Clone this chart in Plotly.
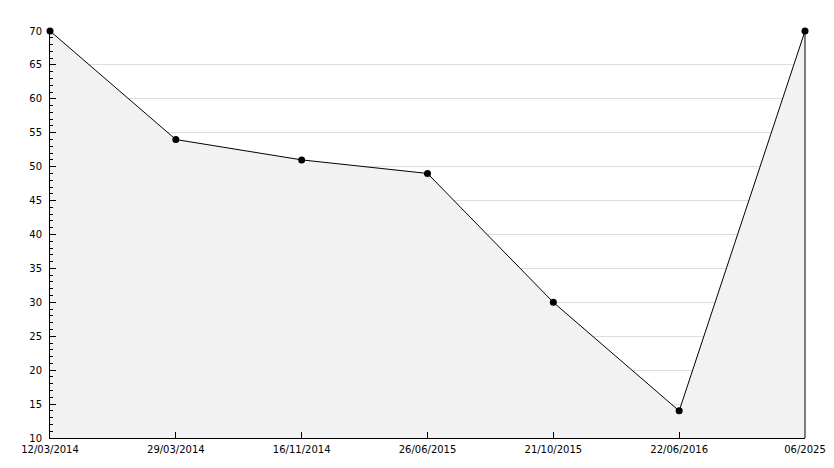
import plotly.graph_objects as go

dates = ["12/03/2014", "29/03/2014", "16/11/2014", "26/06/2015", "21/10/2015", "22/06/2016", "06/2025"]
values = [70, 54, 51, 49, 30, 14, 70]

fig = go.Figure()
fig.add_trace(go.Scatter(
    x=dates, y=values, mode="lines+markers",
    line=dict(color="black", width=1),
    marker=dict(color="black", size=7, symbol="circle"),
    fill="tozeroy", fillcolor="#f2f2f2",
    cliponaxis=False,
    hoverinfo="x+y",
))

# page body has an 8px margin, so the figure is sized/offset to compensate
fig.update_layout(
    width=826, height=460,
    margin=dict(l=42, r=29, t=23, b=30, autoexpand=False),
    paper_bgcolor="white", plot_bgcolor="white",
    showlegend=False,
    font=dict(family="DejaVu Sans", size=10, color="black"),
    xaxis=dict(type="category", range=[0, 6], showgrid=False, automargin=False,
               showline=True, linecolor="black", linewidth=1,
               ticks="inside", ticklen=6, tickcolor="black", zeroline=False,
               ticklabelstandoff=2,
               tickfont=dict(size=10)),
    yaxis=dict(range=[10, 70], dtick=5, showgrid=True, gridcolor="#dddddd", gridwidth=1,
               automargin=False,
               showline=True, linecolor="black", linewidth=1,
               ticks="inside", ticklen=6, tickcolor="black", zeroline=False,
               ticklabelstandoff=5,
               minor=dict(dtick=1, ticks="inside", ticklen=3, tickcolor="black", showgrid=False),
               tickfont=dict(size=10)),
    shapes=[dict(type="line", xref="paper", yref="paper", x0=1, x1=1, y0=0, y1=1,
                 line=dict(color="black", width=1))],
)

fig.write_html("out.html")
